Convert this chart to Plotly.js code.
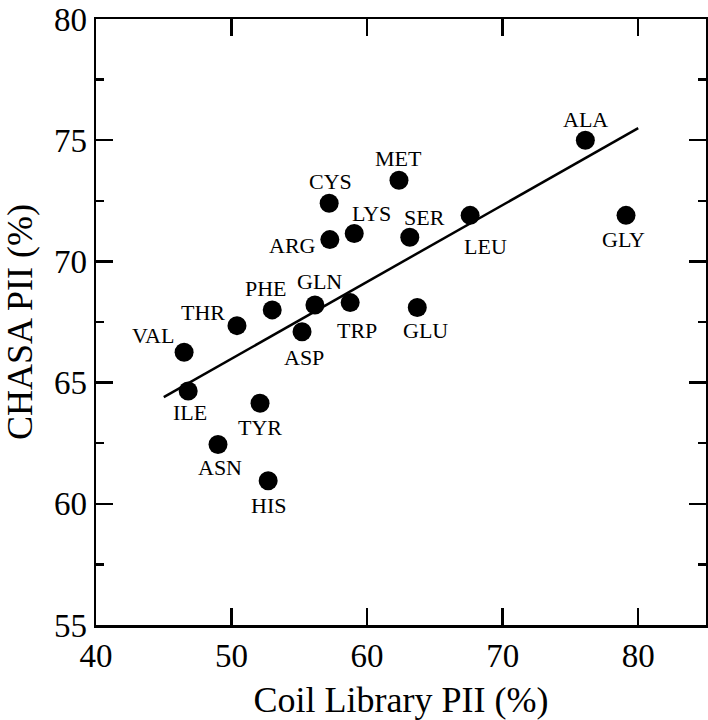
<!DOCTYPE html>
<html>
<head>
<meta charset="utf-8">
<script src="https://cdn.plot.ly/plotly-3.0.1.min.js"></script>
<style>html,body{margin:0;padding:0;background:#fff;}#chart{width:708px;height:720px;}</style>
</head>
<body>
<div id="chart"></div>
<script>
// Data
const residues = ["ALA","GLY","LEU","MET","CYS","LYS","SER","ARG","PHE","GLN","TRP","GLU","THR","VAL","ASP","ILE","TYR","ASN","HIS"];
const coilPII  = [76.1, 79.1, 67.6, 62.35, 57.2, 59.05, 63.15, 57.25, 53.0, 56.15, 58.75, 63.7, 50.4, 46.5, 55.2, 46.8, 52.1, 49.0, 52.7];
const chasaPII = [75.0, 71.9, 71.9, 73.35, 72.4, 71.15, 71.0, 70.9, 68.0, 68.2, 68.3, 68.1, 67.35, 66.25, 67.1, 64.65, 64.15, 62.45, 60.95];
const fitX = [45, 80];
const fitY = [64.4, 75.5];
const xTicks = [40, 50, 60, 70, 80];
const yTicks = [55, 60, 65, 70, 75, 80];

// Label offsets in pixels (layout only)
const labelOffsets = {
  ALA:[0,-21], GLY:[-3,24], LEU:[15,31], MET:[0,-22], CYS:[1,-22], LYS:[17,-20],
  SER:[15,-20], ARG:[-37,6], PHE:[-6,-21], GLN:[5,-24], TRP:[7,28], GLU:[8,23],
  THR:[-34,-13], VAL:[-31,-17], ASP:[2,26], ILE:[2,21], TYR:[0,24], ASN:[2,23], HIS:[0,25]
};

const FONT = 'Liberation Serif';

const traces = [
  {x: fitX, y: fitY, mode: 'lines', type: 'scatter', line: {color: '#000', width: 2.5}, hoverinfo: 'skip', cliponaxis: false},
  {x: coilPII, y: chasaPII, mode: 'markers', type: 'scatter', text: residues,
   marker: {color: '#000', size: 19, line: {width: 0}}}
];

const annotations = residues.map((r, i) => ({
  x: coilPII[i], y: chasaPII[i], xref: 'x', yref: 'y', text: r, showarrow: false,
  xshift: labelOffsets[r][0], yshift: -labelOffsets[r][1],
  font: {family: FONT, size: 22, color: '#000'}, xanchor: 'center', yanchor: 'middle'
}));

const axisCommon = {
  showgrid: false, zeroline: false, showline: true, linecolor: '#000', linewidth: 2.5,
  mirror: 'ticks', ticks: 'inside', ticklen: 17, tickwidth: 2.5, tickcolor: '#000',
  ticklabeloverflow: 'allow',
  tickfont: {family: FONT, size: 33, color: '#000'}
};

const layout = {
  width: 708, height: 720, showlegend: false,
  font: {family: FONT, color: '#000'},
  paper_bgcolor: '#fff', plot_bgcolor: '#fff',
  margin: {l: 96, r: 2, t: 19, b: 95},
  xaxis: Object.assign({}, axisCommon, {
    range: [40, 85], tickvals: xTicks, ticktext: xTicks.map(String),
    title: {text: 'Coil Library PII (%)', font: {family: FONT, size: 36, color: '#000'}}
  }),
  yaxis: Object.assign({}, axisCommon, {
    range: [55, 80.001], tickvals: yTicks, ticktext: yTicks.map(String),
    minor: {dtick: 2.5, tick0: 55, ticks: 'inside', ticklen: 8, tickwidth: 2.5, tickcolor: '#000', showgrid: false},
    title: {text: 'CHASA PII (%)', font: {family: FONT, size: 36, color: '#000'}}
  }),
  annotations: annotations
};

Plotly.newPlot('chart', traces, layout, {displayModeBar: false, staticPlot: true});
</script>
</body>
</html>
